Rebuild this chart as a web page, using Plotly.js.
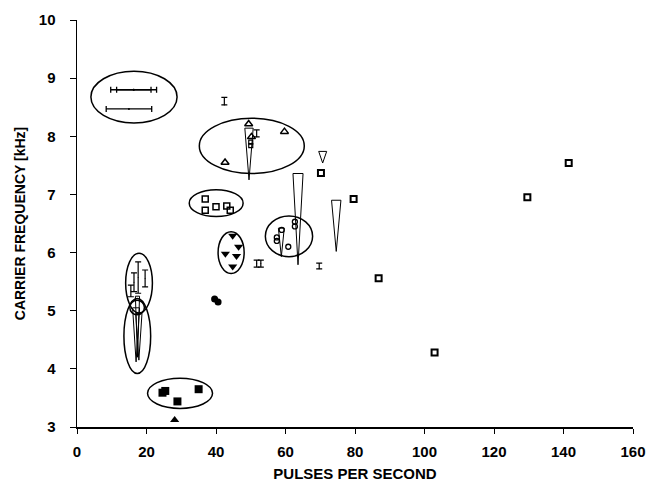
<!DOCTYPE html>
<html><head><meta charset="utf-8">
<script src="https://cdn.plot.ly/plotly-3.0.1.min.js"></script>
<style>html,body{margin:0;padding:0;background:#fff}#chart{width:653px;height:482px}</style>
</head><body><div id="chart"></div>
<script>
// ---- data (x: pulses per second, y: carrier frequency kHz) ----
const hbarX = [16.3, 16.35, 14.95];
const hbarY = [8.80, 8.80, 8.47];
const hbarHalf = [6.6, 4.95, 6.55];

const vbarX = [17.6, 19.6, 16.4, 15.5, 51.7, 52.9];
const vbarY = [5.57, 5.555, 5.49, 5.34, 5.81, 5.81];
const vbarHalf = [0.27, 0.145, 0.16, 0.10, 0.06, 0.06];

const teeX = [42.4, 51.7, 69.7];
const teeY = [8.54, 7.99, 5.72];
const teeUp = [0.13, 0.12, 0.10];

const wedgeX = [49.5, 70.7, 63.6, 74.6, 58.8, 17.0, 17.8, 17.4];
const wedgeTop = [8.14, 7.74, 7.36, 6.90, 6.42, 5.05, 4.95, 5.25];
const wedgeBot = [7.25, 7.54, 5.79, 6.02, 5.93, 4.12, 4.15, 4.20];
const wedgeHalf = [1.2, 1.15, 1.45, 1.35, 0.85, 1.0, 0.9, 0.6];

const ellX0 = [4.0, 35.2, 32.3, 40.6, 54.2, 14.0, 13.5, 15.2, 20.3];
const ellX1 = [28.8, 65.4, 47.8, 48.1, 67.8, 21.7, 21.2, 19.4, 39.0];
const ellY0 = [8.23, 7.36, 6.62, 5.64, 5.93, 4.96, 3.92, 4.93, 3.32];
const ellY1 = [9.12, 8.31, 7.08, 6.36, 6.63, 5.99, 5.21, 5.18, 3.84];

const openTriX = [49.4, 59.7, 42.6, 50.2];
const openTriY = [8.21, 8.08, 7.55, 7.99];
const smallSqX = [50.0, 50.0];
const smallSqY = [7.90, 7.84];
const openSqX = [70.2, 79.6, 86.8, 102.9, 129.6, 141.5];
const openSqY = [7.37, 6.92, 5.56, 4.28, 6.95, 7.54];
const dX = [36.9, 36.9, 40.0, 43.1, 44.1];
const dY = [6.92, 6.73, 6.79, 6.80, 6.73];
const downTriX = [44.8, 46.5, 42.7, 45.9, 44.8];
const downTriY = [6.29, 6.10, 5.98, 5.94, 5.76];
const openCircX = [58.9, 57.5, 57.5, 62.7, 62.7, 60.8];
const openCircY = [6.39, 6.26, 6.20, 6.53, 6.45, 6.10];
const fillCircX = [39.6, 40.6];
const fillCircY = [5.20, 5.15];
const fillSqX = [24.6, 25.4, 35.0, 28.9];
const fillSqY = [3.59, 3.62, 3.65, 3.44];
const fillTriX = [28.1];
const fillTriY = [3.12];

const xTicks = [0, 20, 40, 60, 80, 100, 120, 140, 160];
const yTicks = [3, 4, 5, 6, 7, 8, 9, 10];

// ---- build traces ----
const traces = [];
traces.push({x: hbarX, y: hbarY, type: 'scatter', mode: 'markers',
  marker: {size: 2, color: 'black'},
  error_x: {type: 'data', array: hbarHalf, color: 'black', thickness: 1.3, width: 3}});
traces.push({x: vbarX, y: vbarY, type: 'scatter', mode: 'markers',
  marker: {size: 1, color: 'black'},
  error_y: {type: 'data', array: vbarHalf, color: 'black', thickness: 1.2, width: 3}});
traces.push({x: teeX, y: teeY, type: 'scatter', mode: 'markers',
  marker: {size: 1, color: 'black'},
  error_y: {type: 'data', symmetric: false, array: teeUp, arrayminus: teeUp.map(() => 0),
    color: 'black', thickness: 1.2, width: 3}});

const wx = [], wy = [];
wedgeX.forEach((c, i) => {
  wx.push(c - wedgeHalf[i], c + wedgeHalf[i], c, c - wedgeHalf[i], null);
  wy.push(wedgeTop[i], wedgeTop[i], wedgeBot[i], wedgeTop[i], null);
});
traces.push({x: wx, y: wy, type: 'scatter', mode: 'lines',
  line: {color: 'black', width: 1}, connectgaps: false});

function mk(x, y, symbol, size, lw) {
  return {x: x, y: y, type: 'scatter', mode: 'markers',
    marker: {symbol: symbol, size: size, color: 'black', line: {color: 'black', width: lw}}};
}
traces.push(mk(openTriX, openTriY, 'triangle-up-open', 7, 1.5));
traces.push(mk(smallSqX, smallSqY, 'square-open', 4, 1.2));
traces.push(mk(openSqX, openSqY, 'square-open', 6, 2));
traces.push(mk(dX, dY, 'square-open', 6, 1.5));
traces.push(mk(downTriX, downTriY, 'triangle-down', 8, 0));
traces.push(mk(openCircX, openCircY, 'circle-open', 5, 1.3));
traces.push(mk(fillCircX, fillCircY, 'circle', 7, 0));
traces.push(mk(fillSqX, fillSqY, 'square', 8, 0));
traces.push(mk(fillTriX, fillTriY, 'triangle-up', 8, 0));

const shapes = ellX0.map((v, i) => ({type: 'circle', xref: 'x', yref: 'y',
  x0: v, x1: ellX1[i], y0: ellY0[i], y1: ellY1[i],
  line: {color: 'black', width: 1.5}, layer: 'below'}));

const FAM = 'Liberation Sans, Arial, sans-serif';
const tickFont = {family: FAM, size: 15, color: 'black', weight: 'bold'};
const layout = {
  width: 653, height: 482,
  margin: {l: 77, r: 20, t: 20, b: 55},
  paper_bgcolor: 'white', plot_bgcolor: 'white',
  showlegend: false,
  xaxis: {range: [0, 160], tickvals: xTicks, ticktext: xTicks.map(String),
    showgrid: false, zeroline: false, showline: true, linecolor: 'black', linewidth: 1.5,
    ticks: 'outside', ticklen: 5, tickcolor: 'black', tickfont: tickFont, ticklabelstandoff: 5,
    title: {text: 'PULSES PER SECOND', font: {family: FAM, size: 15, color: 'black', weight: 'bold'}, standoff: 10}},
  yaxis: {range: [3, 10], tickvals: yTicks, ticktext: yTicks.map(String),
    showgrid: false, zeroline: false, showline: true, linecolor: 'black', linewidth: 1.5,
    ticks: 'outside', ticklen: 6, tickcolor: 'black', tickfont: tickFont, ticklabelstandoff: 11,
    title: {text: 'CARRIER FREQUENCY [kHz]', font: {family: FAM, size: 14, color: 'black', weight: 'bold'}, standoff: 10}},
  shapes: shapes
};
Plotly.newPlot('chart', traces, layout, {displayModeBar: false, staticPlot: true});
</script>
</body></html>
